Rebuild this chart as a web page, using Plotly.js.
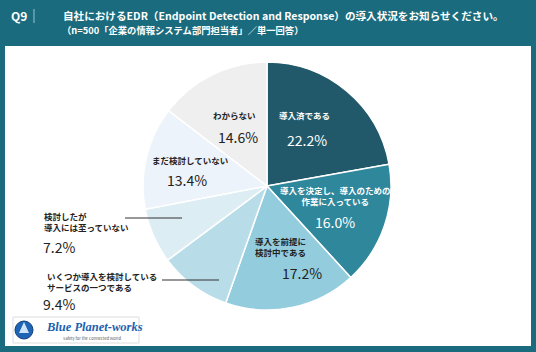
<!DOCTYPE html>
<html><head><meta charset="utf-8">
<script src="https://cdn.plot.ly/plotly-3.0.1.min.js"></script>
<style>html,body{margin:0;padding:0;background:#1a6b7e}#chart{width:536px;height:352px}</style>
</head><body><div id="chart"></div>
<script>
const categories = ["導入済である","導入を決定し、導入のための作業に入っている","導入を前提に検討中である","いくつか導入を検討しているサービスの一つである","検討したが導入には至っていない","まだ検討していない","わからない"];
const values = [22.2, 16.0, 17.2, 9.4, 7.2, 13.4, 14.6];
const displayLabels = ["導入済である","導入を決定し、導入のための<br>作業に入っている","導入を前提に<br>検討中である","いくつか導入を検討している<br>サービスの一つである","検討したが<br>導入には至っていない","まだ検討していない","わからない"];
const sliceColors = ["#22596a","#2f879c","#93cddd","#b8dde8","#dcedf3","#edf3fa","#efefef"];

const W = 536, H = 352;
const px = x => x / W, py = y => 1 - y / H;
const FONT = '"Noto Sans CJK JP", "Noto Sans", sans-serif';

// label placement (pixel layout)
const labelPos = [
  {lx:304, ly:115, tx:307, ty:140, anchor:'center', color:'#ffffff'},
  {lx:335, ly:195, tx:335, ty:222, anchor:'center', color:'#ffffff'},
  {lx:254, ly:246, tx:281, ty:273, anchor:'left', color:'#222222'},
  {lx:46,  ly:281, tx:42,  ty:304, anchor:'left', color:'#222222'},
  {lx:43,  ly:221, tx:42,  ty:247, anchor:'left', color:'#222222'},
  {lx:190, ly:160, tx:187, ty:180, anchor:'center', color:'#222222'},
  {lx:234, ly:115, tx:238, ty:137, anchor:'center', color:'#222222'}
];

const annotations = [];
values.forEach((v, i) => {
  const p = labelPos[i];
  annotations.push({xref:'paper', yref:'paper', x:px(p.lx), y:py(p.ly), xanchor:p.anchor, yanchor:'middle', align:p.anchor==='left'?'left':'center',
    text:displayLabels[i], showarrow:false, borderpad:0, font:{family:FONT, size:8.5, color:p.color, weight:'bold'}});
  annotations.push({xref:'paper', yref:'paper', x:px(p.tx), y:py(p.ty), xanchor:p.anchor==='left'?'left':'center', yanchor:'middle',
    text:v.toFixed(1)+'%', showarrow:false, borderpad:0, font:{family:FONT, size:14, color:p.color}});
});

// header
annotations.push({xref:'paper', yref:'paper', x:px(9), y:py(16), xanchor:'left', yanchor:'middle', text:'Q9', showarrow:false,
  font:{family:FONT, size:12, color:'#ffffff', weight:'bold'}});
annotations.push({xref:'paper', yref:'paper', x:px(61), y:py(16), xanchor:'left', yanchor:'middle',
  text:'自社におけるEDR（Endpoint Detection and Response）の導入状況をお知らせください。', showarrow:false,
  font:{family:FONT, size:10.6, color:'#ffffff', weight:'bold'}});
annotations.push({xref:'paper', yref:'paper', x:px(60), y:py(30), xanchor:'left', yanchor:'middle',
  text:'（n=500「企業の情報システム部門担当者」／単一回答）', showarrow:false,
  font:{family:FONT, size:9.3, color:'#ffffff', weight:'bold'}});
// logo text
annotations.push({xref:'paper', yref:'paper', x:px(44), y:py(327), xanchor:'left', yanchor:'middle',
  text:'<i><b>Blue Planet-works</b></i>', showarrow:false,
  font:{family:'"Liberation Serif", "DejaVu Serif", serif', size:12.5, color:'#1c5fb0'}});
annotations.push({xref:'paper', yref:'paper', x:px(92), y:py(337.5), xanchor:'center', yanchor:'middle',
  text:'Safety for the Connected World', showarrow:false,
  font:{family:FONT, size:4, color:'#555555'}});

const shapes = [
  {type:'rect', xref:'paper', yref:'paper', x0:px(5), x1:px(531), y0:py(46), y1:py(346), fillcolor:'#ffffff', line:{width:0}, layer:'below'},
  {type:'line', xref:'paper', yref:'paper', x0:px(34), x1:px(34), y0:py(9), y1:py(23), line:{color:'#9fc3cc', width:1}},
  {type:'line', xref:'paper', yref:'paper', x0:px(125), x1:px(182), y0:py(218), y1:py(218), line:{color:'#333333', width:1.2}},
  {type:'line', xref:'paper', yref:'paper', x0:px(162), x1:px(219), y0:py(280), y1:py(280), line:{color:'#333333', width:1.2}},
  {type:'rect', xref:'paper', yref:'paper', x0:px(13), x1:px(139), y0:py(317), y1:py(343), fillcolor:'#ffffff', line:{color:'#dddddd', width:1}},
  {type:'circle', xref:'paper', yref:'paper', x0:px(15), x1:px(33), y0:py(321), y1:py(339), fillcolor:'#1f63b5', line:{color:'#153f7a', width:1}},
  {type:'path', xref:'paper', yref:'paper', path:`M ${px(24)} ${py(322)} L ${px(19)} ${py(333)} L ${px(29)} ${py(333)} Z`, fillcolor:'#cfe3f7', line:{width:0}}
];

const trace = {
  type:'pie', values:values, labels:categories, sort:false, direction:'clockwise', rotation:0,
  marker:{colors:sliceColors, line:{color:'#ffffff', width:1.5}},
  textinfo:'none', hoverinfo:'label+percent', showlegend:false,
  domain:{x:[px(267-124), px(267+124)], y:[py(186+124), py(186-124)]}
};

Plotly.newPlot('chart', [trace], {
  width:W, height:H, margin:{l:0,r:0,t:0,b:0},
  paper_bgcolor:'#1a6b7e', showlegend:false,
  annotations:annotations, shapes:shapes
}, {staticPlot:true});
</script></body></html>
